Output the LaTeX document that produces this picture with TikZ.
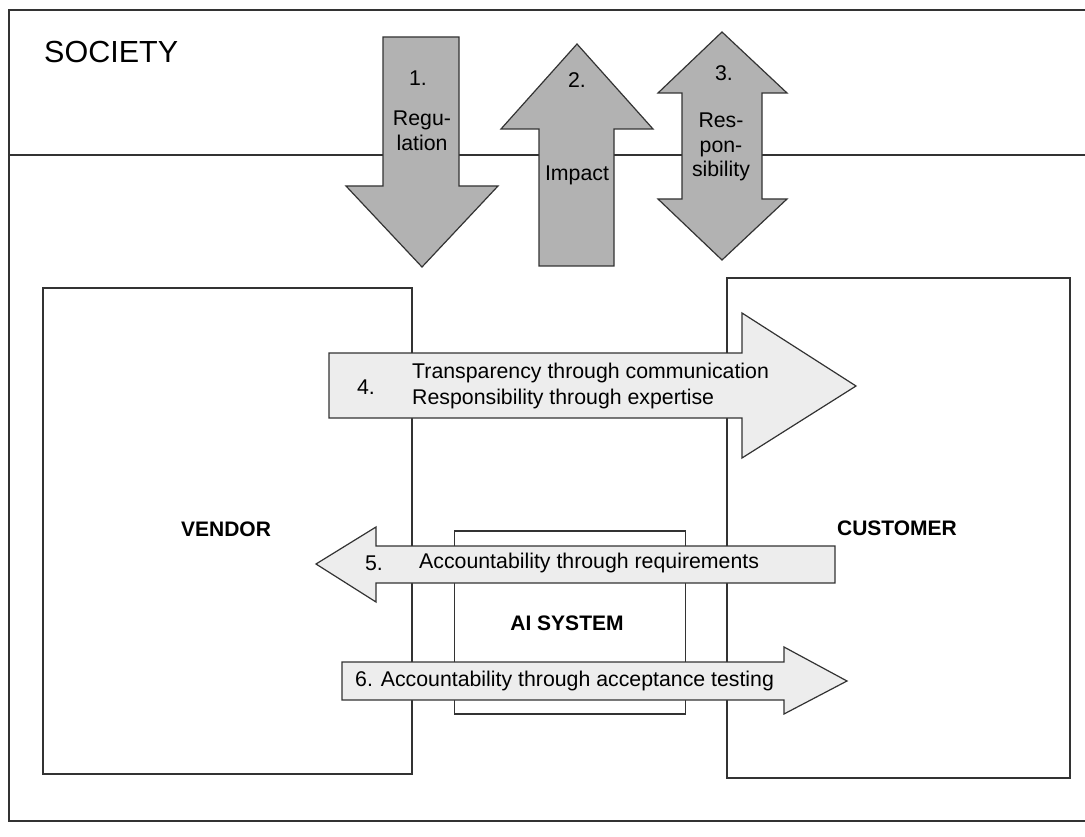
\documentclass[tikz,border=0pt]{standalone}
\usepackage{fontspec}
\setmainfont{Liberation Sans}
\begin{document}
\begin{tikzpicture}[x=1pt,y=-1pt,
  line/.style={draw=black!80, line width=1.2pt},
  bigarrow/.style={line, fill=black!30, line join=miter},
  flatarrow/.style={line, fill=black!7, line join=miter},
  lbl/.style={inner sep=0pt, font=\fontsize{21.3}{24.5}\selectfont, align=center},
  lbll/.style={inner sep=0pt, font=\fontsize{21.3}{26}\selectfont, align=left, anchor=west},
  boldlbl/.style={inner sep=0pt, font=\fontsize{21}{24}\selectfont\bfseries}]
\useasboundingbox (0,0) rectangle (1085,837);
\fill[white] (0,0) rectangle (1085,837);
\clip (0,0) rectangle (1085,837);

% outer frame
\draw[line] (1100,10) -- (9,10) -- (9,821) -- (1100,821);
\draw[line] (9,155) -- (1100,155);
\node[inner sep=0pt, anchor=west, font=\fontsize{30.5}{33}\selectfont] (society) at (44,52) {SOCIETY};

% boxes
\node[line, minimum width=369pt, minimum height=486pt, inner sep=0pt] (vendor) at (227.5,531) {};
\node[boldlbl] (vendortxt) at (226,529) {VENDOR};
\node[line, minimum width=343pt, minimum height=500pt, inner sep=0pt] (customer) at (898.5,528) {};
\node[boldlbl] (customertxt) at (897,528) {CUSTOMER};
\node[line, minimum width=231pt, minimum height=183pt, inner sep=0pt] (ai) at (570,622.5) {};
\node[boldlbl] (aitxt) at (567,623) {AI SYSTEM};

% top arrows
\draw[bigarrow] (383,37) -- (459,37) -- (459,186) -- (498,186) -- (422,267) -- (346,186) -- (383,186) -- cycle;
\node[lbl] (a1n) at (418,78) {1.};
\node[lbl] (a1t) at (422,131) {Regu-\\lation};

\draw[bigarrow] (577,44) -- (653,129) -- (614,129) -- (614,266) -- (539,266) -- (539,129) -- (501,129) -- cycle;
\node[lbl] (a2n) at (577,80) {2.};
\node[lbl] (a2t) at (577,175) {Impact};

\draw[bigarrow] (722,32) -- (787,93) -- (762,93) -- (762,199) -- (787,199) -- (722,260) -- (658,199) -- (682,199) -- (682,93) -- (658,93) -- cycle;
\node[lbl] (a3n) at (724,73) {3.};
\node[lbl] (a3t) at (721,147) {Res-\\pon-\\sibility};

% arrow 4
\draw[flatarrow] (329,353) -- (742,353) -- (742,313) -- (856,386) -- (742,458) -- (742,418) -- (329,418) -- cycle;
\node[lbl] (a4n) at (366,387) {4.};
\node[lbll] (a4t) at (412,386) {Transparency through communication\\Responsibility through expertise};

% arrow 5
\draw[flatarrow] (835,546) -- (376,546) -- (376,527) -- (316,564) -- (376,602) -- (376,583) -- (835,583) -- cycle;
\node[lbl] (a5n) at (374,563) {5.};
\node[lbll] (a5t) at (419,563) {Accountability through requirements};

% arrow 6
\draw[flatarrow] (342,662) -- (784,662) -- (784,647) -- (847,681) -- (784,714) -- (784,700) -- (342,700) -- cycle;
\node[lbll] (a6t) at (355,681) {6. Accountability through acceptance testing};
\end{tikzpicture}
\end{document}
